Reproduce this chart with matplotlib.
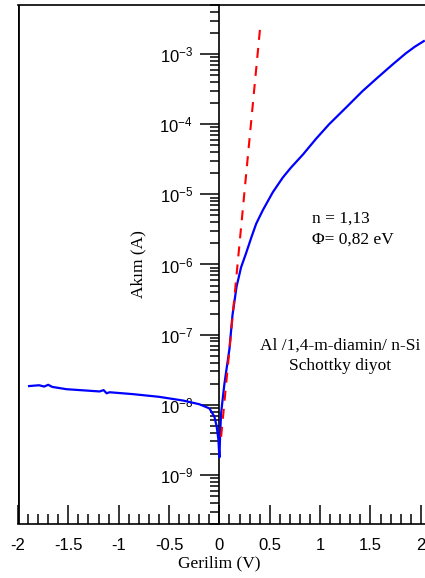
import numpy as np
import matplotlib
matplotlib.use("Agg")
import matplotlib.pyplot as plt
from matplotlib.ticker import LogLocator, NullFormatter, LogFormatterSciNotation

plt.rcParams['font.family'] = ['Liberation Sans', 'DejaVu Sans']
plt.rcParams['mathtext.fontset'] = 'custom'
plt.rcParams['mathtext.rm'] = 'Liberation Sans'
plt.rcParams['mathtext.it'] = 'Liberation Sans:italic'

# measured I-V curve (V in volts, I in amperes)
volt = [-1.89, -1.79, -1.74, -1.70, -1.66, -1.52, -1.19, -1.15, -1.12, -1.09,
        -0.86, -0.60, -0.36, -0.20, -0.10, -0.05, -0.027, -0.010,
        0.0, 0.008, 0.017, 0.03, 0.05, 0.075, 0.10, 0.13, 0.17, 0.215,
        0.265, 0.32, 0.365, 0.43, 0.53, 0.63, 0.71, 0.83, 0.96, 1.09,
        1.26, 1.42, 1.57, 1.72, 1.85, 1.94, 2.03]
current = [1.85e-8, 1.90e-8, 1.82e-8, 1.93e-8, 1.80e-8, 1.67e-8, 1.55e-8, 1.62e-8, 1.46e-8, 1.51e-8,
           1.42e-8, 1.30e-8, 1.15e-8, 1.02e-8, 8.9e-9, 6.8e-9, 4.9e-9, 3.2e-9,
           1.78e-9, 3.98e-9, 7.59e-9, 1.12e-8, 2.0e-8, 3.55e-8, 6.3e-8, 1.9e-7, 4.8e-7, 9.1e-7,
           1.45e-6, 2.5e-6, 3.8e-6, 5.9e-6, 1.07e-5, 1.74e-5, 2.4e-5, 3.7e-5, 6.2e-5, 1.0e-4,
           1.74e-4, 2.95e-4, 4.6e-4, 7.1e-4, 1.02e-3, 1.27e-3, 1.53e-3]

# linear fit of the forward region (straight on semilog)
fit_v = [0.017, 0.407]
fit_i = [3.5e-9, 2.6e-3]

n_text = 'n = 1,13\n\u03a6= 0,82 eV'
diode_text = 'Al /1,4-m-diamin/ n-Si\nSchottky diyot'

fig = plt.figure(figsize=(4.25, 5.78), dpi=100)
ax = fig.add_axes([18/425, 1 - 524/578, 4.2*100.7/425, 519/578])

ax.plot(volt, current, color='#0000ff', lw=1.6, zorder=3)
ax.plot(fit_v, fit_i, color='#ff0000', lw=1.5, dashes=(4.8, 3.9), zorder=4)

ax.set_yscale('log')
ax.set_xlim(-2, 2.2)
ax.set_ylim(2e-10, 5e-3)

# y axis drawn through V = 0
ax.spines['left'].set_position(('data', 0))
ax.spines['right'].set_visible(False)
for s in ax.spines.values():
    s.set_linewidth(1.2)
ax.axvline(-2, color='black', lw=2.0, zorder=5)

ax.yaxis.set_major_locator(LogLocator(base=10, numticks=20))
ax.yaxis.set_minor_locator(LogLocator(base=10, subs=np.arange(2, 10), numticks=20))
ax.yaxis.set_major_formatter(LogFormatterSciNotation())
ax.yaxis.set_minor_formatter(NullFormatter())

ax.set_xticks(np.arange(-2, 2.01, 0.5))
ax.set_xticklabels(['-2', '-1.5', '-1', '-0.5', '0', '0.5', '1', '1.5', '2'])
ax.set_xticks(np.arange(-2, 2.21, 0.1), minor=True)

ax.tick_params(axis='x', which='major', direction='in', length=14, width=1.1, labelsize=12, pad=10)
ax.tick_params(axis='x', which='minor', direction='in', length=7, width=1.1)
ax.tick_params(axis='y', which='major', direction='out', length=14, width=1.1, labelsize=12, pad=5)
ax.tick_params(axis='y', which='minor', direction='out', length=6.5, width=1.1)

ax.set_xlabel('Gerilim (V)', family='Liberation Serif', fontsize=12.5)
ax.xaxis.set_label_coords(0, -0.061, transform=ax.get_xaxis_transform())
ax.set_ylabel('Ak\u0131m (A)', family='Liberation Serif', fontsize=12.5)
ax.yaxis.set_label_coords(-0.725, 1.03e-6, transform=ax.transData)

ax.text(0.915, 3.2e-6, n_text, family='Liberation Serif', fontsize=12.5,
        ha='left', va='center', linespacing=1.35)
ax.text(1.2, 5.0e-8, diode_text, family='Liberation Serif', fontsize=12.5,
        ha='center', va='center', linespacing=1.3)

fig.savefig('out.png', dpi=100)
